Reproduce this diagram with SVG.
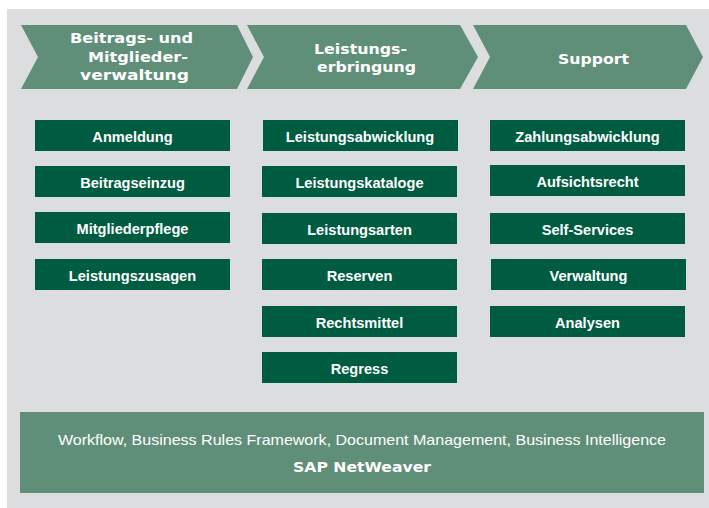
<svg xmlns="http://www.w3.org/2000/svg" width="709" height="508" viewBox="0 0 709 508">
<style>
.bg{fill:#dcdddf}
.chev{fill:#5f8f78}
.box{fill:#005c40}
.base{fill:#5f8f78}
.lbl{font-family:"Liberation Sans",Arial,sans-serif;font-weight:bold;font-size:14.6px;fill:#ffffff;text-anchor:middle}
.hdr{font-family:"DejaVu Sans","Liberation Sans",sans-serif;font-weight:bold;font-size:14.4px;fill:#ffffff}
.plain{font-family:"Liberation Sans",Arial,sans-serif;font-size:15px;fill:#ffffff}
</style>
<rect x="0" y="0" width="709" height="508" fill="#ffffff"/>
<rect class="bg" x="7" y="9" width="702" height="499"/>
<g id="phase1">
<polygon class="chev" points="21,25 237,25 253,57 237,89 21,89 38,57"/>
<text class="hdr" x="70" y="43" textLength="123" lengthAdjust="spacingAndGlyphs">Beitrags-  und</text>
<text class="hdr" x="88" y="61.5" textLength="100" lengthAdjust="spacingAndGlyphs">Mitglieder-</text>
<text class="hdr" x="80" y="80" textLength="109" lengthAdjust="spacingAndGlyphs">verwaltung</text>
</g>
<g id="phase2">
<polygon class="chev" points="247,25 460,25 478,57 460,89 247,89 264,57"/>
<text class="hdr" x="314" y="54" textLength="93" lengthAdjust="spacingAndGlyphs">Leistungs-</text>
<text class="hdr" x="317" y="72" textLength="99" lengthAdjust="spacingAndGlyphs">erbringung</text>
</g>
<g id="phase3">
<polygon class="chev" points="473,25 686,25 703,57 686,89 473,89 490,57"/>
<text class="hdr" x="558" y="64" textLength="71" lengthAdjust="spacingAndGlyphs">Support</text>
</g>
<g id="col1">
<g id="anmeldung"><rect class="box" x="35" y="120" width="195" height="31"/><text class="lbl" x="132.5" y="142">Anmeldung</text></g>
<g id="beitragseinzug"><rect class="box" x="35" y="166" width="195" height="31"/><text class="lbl" x="132.5" y="188">Beitragseinzug</text></g>
<g id="mitgliederpflege"><rect class="box" x="35" y="212" width="195" height="31"/><text class="lbl" x="132.5" y="234">Mitgliederpflege</text></g>
<g id="leistungszusagen"><rect class="box" x="35" y="259" width="195" height="31"/><text class="lbl" x="132.5" y="281">Leistungszusagen</text></g>
</g>
<g id="col2">
<g id="leistungsabwicklung"><rect class="box" x="263" y="120" width="195" height="31"/><text class="lbl" x="360" y="142">Leistungsabwicklung</text></g>
<g id="leistungskataloge"><rect class="box" x="262" y="166" width="195" height="31"/><text class="lbl" x="359.5" y="188">Leistungskataloge</text></g>
<g id="leistungsarten"><rect class="box" x="262" y="213" width="195" height="31"/><text class="lbl" x="359.5" y="235">Leistungsarten</text></g>
<g id="reserven"><rect class="box" x="262" y="259" width="195" height="31"/><text class="lbl" x="359.5" y="281">Reserven</text></g>
<g id="rechtsmittel"><rect class="box" x="262" y="306" width="195" height="31"/><text class="lbl" x="359.5" y="328">Rechtsmittel</text></g>
<g id="regress"><rect class="box" x="262" y="352" width="195" height="31"/><text class="lbl" x="359.5" y="374">Regress</text></g>
</g>
<g id="col3">
<g id="zahlungsabwicklung"><rect class="box" x="490" y="120" width="195" height="31"/><text class="lbl" x="587.5" y="142">Zahlungsabwicklung</text></g>
<g id="aufsichtsrecht"><rect class="box" x="490" y="165" width="195" height="31"/><text class="lbl" x="587.5" y="187">Aufsichtsrecht</text></g>
<g id="selfservices"><rect class="box" x="490" y="213" width="195" height="31"/><text class="lbl" x="587.5" y="235">Self-Services</text></g>
<g id="verwaltung"><rect class="box" x="491" y="259" width="195" height="31"/><text class="lbl" x="588.5" y="281">Verwaltung</text></g>
<g id="analysen"><rect class="box" x="490" y="306" width="195" height="31"/><text class="lbl" x="587.5" y="328">Analysen</text></g>
</g>
<g id="platform">
<rect class="base" x="20" y="412" width="684" height="81"/>
<text class="plain" x="58" y="445" textLength="608" lengthAdjust="spacingAndGlyphs">Workflow, Business Rules Framework, Document Management, Business Intelligence</text>
<text class="hdr" x="293" y="472" textLength="138" lengthAdjust="spacingAndGlyphs">SAP NetWeaver</text>
</g>
<g id="connectors"></g>
</svg>
